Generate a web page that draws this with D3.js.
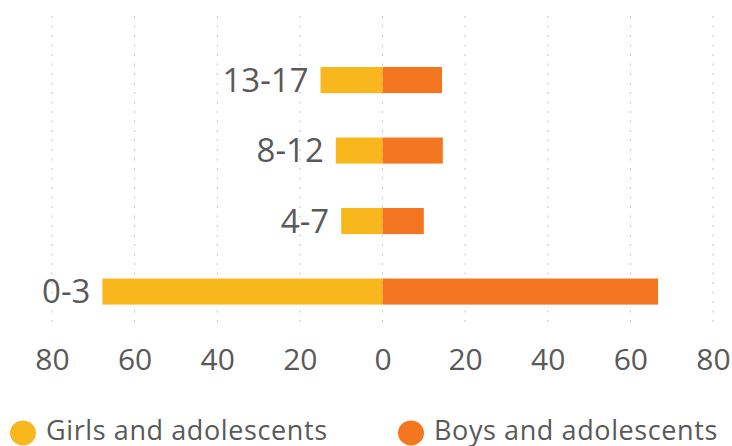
<!DOCTYPE html>
<html>
<head>
<meta charset="utf-8">
<script src="https://cdn.jsdelivr.net/npm/d3@7/dist/d3.min.js"></script>
<style>
  html, body { margin: 0; padding: 0; background: #fff; }
  svg { display: block; font-family: "Open Sans", sans-serif; }
</style>
</head>
<body>
<svg id="chart" width="732" height="446"></svg>
<script>
// ---- data ----
const categories = ["13-17", "8-12", "4-7", "0-3"];
const girls = [15, 11.3, 10, 67.8];
const boys = [14.4, 14.6, 10, 66.7];
const tickValues = [-80, -60, -40, -20, 0, 20, 40, 60, 80];
const seriesNames = ["Girls and adolescents", "Boys and adolescents"];
const colors = ["#F8B81D", "#F47621"];

const svg = d3.select("#chart");
const textColor = "#595959";

const x = d3.scaleLinear().domain([-80, 80]).range([52, 713]);
const y = d3.scaleBand().domain(categories).range([44.8, 326.8])
  .paddingInner(0.63).paddingOuter(0.315);

// gridlines
svg.append("g").selectAll("line").data(tickValues).join("line")
  .attr("x1", d => x(d)).attr("x2", d => x(d))
  .attr("y1", 16).attr("y2", 322)
  .attr("stroke", "#c4c4c4").attr("stroke-width", 1)
  .attr("stroke-dasharray", "2,7.5");

// axis
const axis = d3.axisBottom(x).tickValues(tickValues)
  .tickFormat(d => Math.abs(d)).tickSize(0).tickPadding(0);
const ag = svg.append("g").attr("transform", "translate(0,347)").call(axis);
ag.select(".domain").remove();
ag.selectAll("text").attr("font-size", 30).attr("fill", textColor)
  .attr("font-family", "'Open Sans', sans-serif").attr("dy", "0.75em");

// bars
const rows = categories.map((c, i) => ({ c, g: girls[i], b: boys[i] }));
svg.append("g").selectAll("rect").data(rows).join("rect")
  .attr("x", d => x(-d.g)).attr("width", d => x(0) - x(-d.g))
  .attr("y", d => y(d.c)).attr("height", y.bandwidth())
  .attr("fill", colors[0]);
svg.append("g").selectAll("rect").data(rows).join("rect")
  .attr("x", x(0)).attr("width", d => x(d.b) - x(0))
  .attr("y", d => y(d.c)).attr("height", y.bandwidth())
  .attr("fill", colors[1]);

// category labels
svg.append("g").selectAll("text").data(rows).join("text")
  .attr("x", d => x(-d.g) - 12)
  .attr("y", d => y(d.c) + y.bandwidth() / 2 + 11.5)
  .attr("text-anchor", "end").attr("font-size", 33).attr("fill", textColor)
  .text(d => d.c);

// legend
const legendX = [23, 411];
const lg = svg.append("g").selectAll("g").data(seriesNames).join("g")
  .attr("transform", (d, i) => `translate(${legendX[i]},433)`);
lg.append("ellipse").attr("rx", 13).attr("ry", 12.5).attr("fill", (d, i) => colors[i]);
lg.append("text").attr("x", 23).attr("y", 6.5)
  .attr("font-size", 27).attr("letter-spacing", 0.6)
  .attr("fill", textColor).text(d => d);
</script>
</body>
</html>
